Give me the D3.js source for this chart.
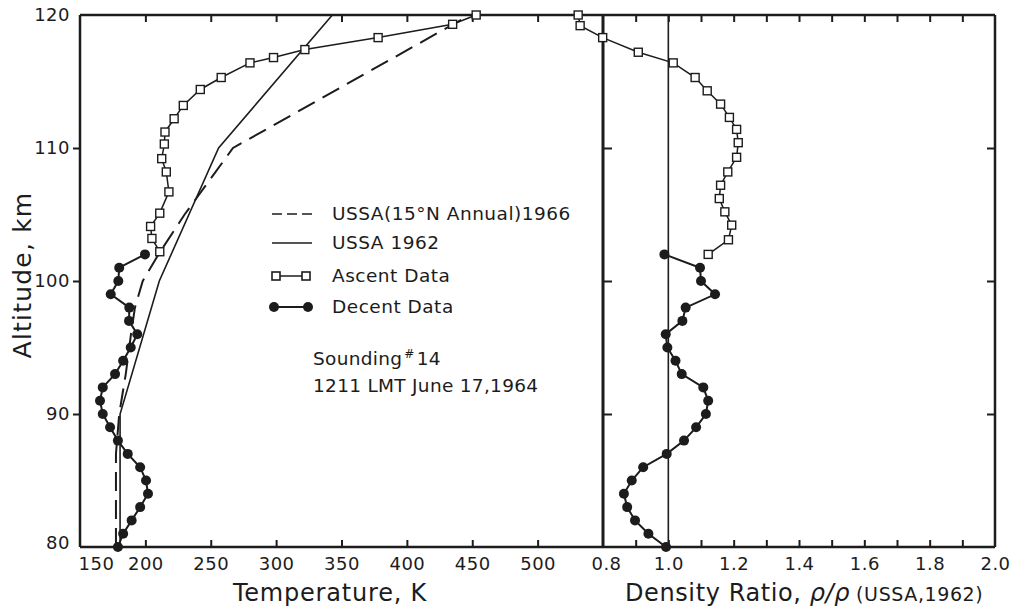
<!DOCTYPE html>
<html><head><meta charset="utf-8">
<script src="https://cdn.jsdelivr.net/npm/d3@7"></script>
<style>
body{margin:0;background:#fff;}
text{font-family:"DejaVu Sans",sans-serif;fill:#1c1c1c;}
</style>
</head><body>
<svg id="c" width="1018" height="611"></svg>
<script>
// ---- data ----
const altDescent = [80,81,82,83,84,85,86,87,88,89,90,91,92,93,94,95,96,97,98,99,100,101,102];
const tempDescent = [179,183,189.5,196,202,200.5,196,186.5,179,173,167.4,165.3,167.4,176.8,183,188.8,193.8,187.5,187.7,173.5,179.3,180,199.7];
const densDescent = [0.993,0.939,0.898,0.874,0.864,0.888,0.923,0.995,1.048,1.085,1.115,1.122,1.107,1.041,1.022,0.997,0.992,1.043,1.053,1.143,1.100,1.097,0.988];

const altAscentT = [102.2,103.2,104.1,105.1,106.7,108.2,109.2,110.3,111.2,112.2,113.2,114.4,115.3,116.4,116.8,117.4,118.3,119.3,120];
const tempAscent = [211,205,204,211,218,216,212.5,214.5,215,222,229,242,258,280,298,322,378,435,453];

const altAscentD = [102,103.1,104.2,105.2,106.2,107.2,108.2,109.3,110.4,111.4,112.3,113.3,114.3,115.3,116.4,117.2,118.3,119.2,120];
const densAscent = [1.122,1.184,1.194,1.173,1.156,1.160,1.182,1.209,1.214,1.209,1.187,1.160,1.119,1.082,1.015,0.908,0.799,0.730,0.724];

const altUSSA62 = [80,90,100,110,120];
const tempUSSA62 = [180.65,180.65,210.65,256,343];

const altUSSA66 = [80,87,90,93,96,98,100,102,105,110,120];
const tempUSSA66 = [177.5,177.5,180,185,189,192,198,210,230,267,448];

const altTicks = [80,90,100,110,120];
const tempTicks = [150,200,250,300,350,400,450,500];
const densLabelTicks = [0.8,1.0,1.2,1.4,1.6,1.8,2.0];
const densMinorTicks = [0.9,1.0,1.1,1.2,1.3,1.4,1.5,1.6,1.7,1.8,1.9];

// ---- scales ----
const svg = d3.select("#c");
const ink = "#1c1c1c";
const y  = d3.scaleLinear().domain([80,120]).range([547,15]);
const xT = d3.scaleLinear().domain([150,550]).range([80,603]);
const xD = d3.scaleLinear().domain([0.8,2.0]).range([603,995]);

function styleAxis(g, labels){
  g.select(".domain").remove();
  g.selectAll(".tick line").attr("stroke", ink).attr("stroke-width", 2);
  g.selectAll(".tick text").attr("font-size", 18).attr("fill", ink)
   .style("font-family", '"DejaVu Sans",sans-serif').style("letter-spacing","0.5px");
  if(!labels) g.selectAll(".tick text").remove();
}

// left axis
svg.append("g").attr("transform","translate(80,0)")
  .call(d3.axisLeft(y).tickValues(altTicks).tickSize(7).tickPadding(3).tickFormat(d3.format("d")))
  .call(g=>styleAxis(g,true))
  .call(g=>g.selectAll(".tick line").filter(d=>d===80||d===120).remove())
  .call(g=>g.selectAll(".tick text").filter(d=>d===80).attr("dy","0.1em"));

// ticks on 0.8 line (pointing right) and right boundary (pointing left)
svg.append("g").attr("transform","translate(603,0)")
  .call(d3.axisRight(y).tickValues([90,100,110]).tickSize(9))
  .call(g=>styleAxis(g,false));
svg.append("g").attr("transform","translate(995,0)")
  .call(d3.axisLeft(y).tickValues([90,100,110]).tickSize(8))
  .call(g=>styleAxis(g,false));

// bottom temperature axis
svg.append("g").attr("transform","translate(0,547)")
  .call(d3.axisBottom(xT).tickValues(tempTicks).tickSizeInner(-7).tickSizeOuter(0).tickPadding(10))
  .call(g=>styleAxis(g,true))
  .call(g=>g.selectAll(".tick line").filter(d=>d===150).remove())
  .call(g=>g.selectAll(".tick text").filter(d=>d===150).attr("dx",16));
// top temperature ticks
svg.append("g").attr("transform","translate(0,15)")
  .call(d3.axisTop(xT).tickValues(tempTicks.slice(1)).tickSize(-7))
  .call(g=>styleAxis(g,false));

// density axis: minor ticks and labels
svg.append("g").attr("transform","translate(0,547)")
  .call(d3.axisBottom(xD).tickValues(densMinorTicks).tickSize(-7))
  .call(g=>styleAxis(g,false));
svg.append("g").attr("transform","translate(0,547)")
  .call(d3.axisBottom(xD).tickValues(densLabelTicks).tickSize(0).tickPadding(10).tickFormat(d3.format(".1f")))
  .call(g=>styleAxis(g,true))
  .call(g=>g.selectAll(".tick text").filter(d=>d===0.8).attr("dx",3));
svg.append("g").attr("transform","translate(0,15)")
  .call(d3.axisTop(xD).tickValues(densMinorTicks).tickSize(-7))
  .call(g=>styleAxis(g,false));

// frame
const frame = svg.append("g").attr("stroke", ink).attr("fill","none");
frame.append("line").attr("x1",xT(150)).attr("x2",xD(2.0)).attr("y1",y(120)).attr("y2",y(120)).attr("stroke-width",2.5);
frame.append("line").attr("x1",xT(150)).attr("x2",xD(2.0)).attr("y1",y(80)).attr("y2",y(80)).attr("stroke-width",2.5);
frame.append("line").attr("x1",xT(150)).attr("x2",xT(150)).attr("y1",y(80)).attr("y2",y(120)).attr("stroke-width",2.5);
frame.append("line").attr("x1",xD(0.8)).attr("x2",xD(0.8)).attr("y1",y(80)).attr("y2",y(120)).attr("stroke-width",3);
frame.append("line").attr("x1",xD(2.0)).attr("x2",xD(2.0)).attr("y1",y(80)).attr("y2",y(120)).attr("stroke-width",2.5);
frame.append("line").attr("x1",xD(1.0)).attr("x2",xD(1.0)).attr("y1",y(80)).attr("y2",y(120)).attr("stroke-width",1.6);

// ---- series ----
const zipT = (a,v)=>a.map((d,i)=>({a:d,v:v[i]}));
const lineT = d3.line().x(d=>xT(d.v)).y(d=>y(d.a));
const lineD = d3.line().x(d=>xD(d.v)).y(d=>y(d.a));

const u62 = zipT(altUSSA62,tempUSSA62);
const u66 = zipT(altUSSA66,tempUSSA66);
const asT = zipT(altAscentT,tempAscent);
const deT = zipT(altDescent,tempDescent);
const asD = zipT(altAscentD,densAscent);
const deD = zipT(altDescent,densDescent);

svg.append("path").datum(u62).attr("d",lineT).attr("fill","none").attr("stroke",ink).attr("stroke-width",1.6);
svg.append("path").datum(u66).attr("d",lineT).attr("fill","none").attr("stroke",ink).attr("stroke-width",2).attr("stroke-dasharray","19,9");

function ascent(data,line,xs){
  svg.append("path").datum(data).attr("d",line).attr("fill","none").attr("stroke",ink).attr("stroke-width",1.5);
  svg.append("g").selectAll("rect").data(data).join("rect")
    .attr("x",d=>xs(d.v)-4).attr("y",d=>y(d.a)-4).attr("width",8).attr("height",8)
    .attr("fill","#fff").attr("stroke",ink).attr("stroke-width",1.4);
}
function descent(data,line,xs){
  svg.append("path").datum(data).attr("d",line).attr("fill","none").attr("stroke",ink).attr("stroke-width",2);
  svg.append("g").selectAll("circle").data(data).join("circle")
    .attr("cx",d=>xs(d.v)).attr("cy",d=>y(d.a)).attr("r",5).attr("fill",ink);
}
ascent(asT,lineT,xT);
descent(deT,lineT,xT);
ascent(asD,lineD,xD);
descent(deD,lineD,xD);

// ---- legend ----
const lg = svg.append("g");
const legendRows = [
  {label:"USSA(15°N Annual)1966", type:"dash", yy:214},
  {label:"USSA 1962", type:"solid", yy:243},
  {label:"Ascent Data", type:"asc", yy:276},
  {label:"Decent Data", type:"desc", yy:307}
];
legendRows.forEach(r=>{
  if(r.type==="dash"){
    lg.append("line").attr("x1",272).attr("x2",312).attr("y1",r.yy).attr("y2",r.yy)
      .attr("stroke",ink).attr("stroke-width",1.6).attr("stroke-dasharray","10,5");
  } else if(r.type==="solid"){
    lg.append("line").attr("x1",272).attr("x2",312).attr("y1",r.yy).attr("y2",r.yy)
      .attr("stroke",ink).attr("stroke-width",1.6);
  } else if(r.type==="asc"){
    lg.append("line").attr("x1",276).attr("x2",306).attr("y1",r.yy).attr("y2",r.yy).attr("stroke",ink).attr("stroke-width",1.5);
    [276,306].forEach(cx=>lg.append("rect").attr("x",cx-4).attr("y",r.yy-4).attr("width",8).attr("height",8)
      .attr("fill","#fff").attr("stroke",ink).attr("stroke-width",1.6));
  } else {
    lg.append("line").attr("x1",274).attr("x2",308).attr("y1",r.yy).attr("y2",r.yy).attr("stroke",ink).attr("stroke-width",2);
    [274,308].forEach(cx=>lg.append("circle").attr("cx",cx).attr("cy",r.yy).attr("r",5).attr("fill",ink));
  }
  lg.append("text").attr("x",332).attr("y",r.yy+6).attr("font-size",18.5).style("letter-spacing","0.5px").text(r.label);
});
const s1 = svg.append("text").attr("x",313).attr("y",365).attr("font-size",18.5).style("letter-spacing","0.3px");
s1.append("tspan").text("Sounding");
s1.append("tspan").attr("font-size",12).attr("dy",-7).attr("dx",2).text("#");
s1.append("tspan").attr("dy",7).attr("dx",2).text("14");
svg.append("text").attr("x",313).attr("y",392).attr("font-size",18.5).style("letter-spacing","0.3px").text("1211 LMT June 17,1964");

// ---- axis titles ----
svg.append("text").attr("x",330).attr("y",601).attr("text-anchor","middle").attr("font-size",24)
  .style("letter-spacing","0.8px").text("Temperature, K");
const dt = svg.append("text").attr("x",625).attr("y",601).attr("font-size",24).style("letter-spacing","0.6px");
dt.append("tspan").text("Density Ratio, ");
dt.append("tspan").attr("font-style","italic").text("ρ/ρ");
dt.append("tspan").attr("font-size",19).attr("dx",6).text("(USSA,1962)");
svg.append("text").attr("transform","translate(31,275) rotate(-90)").attr("text-anchor","middle")
  .attr("font-size",25).style("letter-spacing","1.2px").text("Altitude, km");
</script>
</body></html>
